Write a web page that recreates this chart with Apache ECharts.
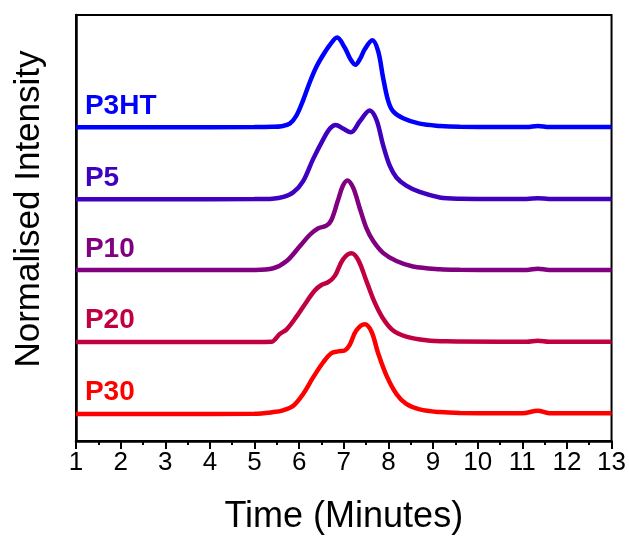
<!DOCTYPE html>
<html>
<head>
<meta charset="utf-8">
<script src="https://cdn.jsdelivr.net/npm/echarts@6/dist/echarts.min.js"></script>
<style>
html,body{margin:0;padding:0;background:#fff;}
#chart{width:629px;height:540px;}
</style>
</head>
<body>
<div id="chart"></div>
<script>
// ---- data ----
var seriesNames = ['P3HT', 'P5', 'P10', 'P20', 'P30'];
var seriesColors = ['#0000FF', '#4000C0', '#800080', '#C00040', '#FF0000'];
var offsets = [3.462, 2.668, 1.886, 1.092, 0.299];

var p3htTime = [1, 3, 5.0, 5.4, 5.6, 5.79, 5.94, 6.09, 6.24, 6.39, 6.54, 6.69, 6.85, 7.02, 7.14, 7.26, 7.37, 7.47, 7.64, 7.77, 7.88, 7.99, 8.10, 8.33, 8.70, 9.15, 9.6, 10.5, 11.1, 11.35, 11.6, 12.2, 13];
var p3htValue = [0, 0, 0.002, 0.005, 0.012, 0.04, 0.13, 0.30, 0.50, 0.67, 0.80, 0.91, 0.99, 0.88, 0.76, 0.69, 0.76, 0.86, 0.96, 0.84, 0.55, 0.30, 0.18, 0.10, 0.04, 0.015, 0.005, 0.003, 0.003, 0.015, 0.003, 0.002, 0.002];

var p5Time = [1, 3, 5.0, 5.4, 5.65, 5.87, 6.09, 6.31, 6.54, 6.69, 6.82, 6.98, 7.16, 7.36, 7.58, 7.73, 7.88, 8.03, 8.18, 8.40, 8.70, 9.15, 9.6, 10.5, 11.1, 11.35, 11.6, 12.2, 13];
var p5Value = [0, 0, 0.002, 0.006, 0.025, 0.076, 0.20, 0.44, 0.66, 0.78, 0.82, 0.78, 0.74, 0.86, 0.98, 0.88, 0.60, 0.37, 0.24, 0.15, 0.08, 0.02, 0.006, 0.003, 0.003, 0.012, 0.003, 0.002, 0.002];

var p10Time = [1, 3, 5.0, 5.42, 5.72, 6.01, 6.24, 6.42, 6.61, 6.72, 6.87, 6.98, 7.08, 7.21, 7.36, 7.51, 7.66, 7.88, 8.18, 8.55, 9.15, 9.6, 10.5, 11.1, 11.35, 11.6, 12.2, 13];
var p10Value = [0, 0, 0.002, 0.02, 0.10, 0.26, 0.39, 0.46, 0.49, 0.55, 0.77, 0.93, 0.99, 0.91, 0.68, 0.46, 0.32, 0.19, 0.10, 0.04, 0.01, 0.004, 0.002, 0.002, 0.015, 0.002, 0.002, 0.002];

var p20Time = [1, 3, 5.0, 5.39, 5.46, 5.57, 5.72, 5.94, 6.16, 6.35, 6.50, 6.65, 6.80, 6.98, 7.17, 7.32, 7.51, 7.69, 7.88, 8.10, 8.40, 8.85, 9.3, 10.5, 11.1, 11.35, 11.6, 12.2, 13];
var p20Value = [0, 0, 0, 0.003, 0.03, 0.09, 0.14, 0.28, 0.44, 0.57, 0.63, 0.66, 0.73, 0.91, 0.98, 0.91, 0.67, 0.44, 0.26, 0.13, 0.06, 0.02, 0.008, 0.004, 0.004, 0.015, 0.004, 0.003, 0.003];

var p30Time = [1, 3, 5.0, 5.42, 5.64, 5.87, 6.09, 6.31, 6.54, 6.72, 6.87, 7.02, 7.13, 7.28, 7.47, 7.62, 7.77, 7.96, 8.18, 8.40, 8.70, 9.15, 9.6, 10.5, 11.0, 11.35, 11.6, 12.2, 13];
var p30Value = [0, 0, 0.002, 0.02, 0.04, 0.09, 0.22, 0.40, 0.57, 0.67, 0.69, 0.70, 0.76, 0.92, 0.99, 0.91, 0.67, 0.42, 0.22, 0.11, 0.05, 0.02, 0.01, 0.008, 0.008, 0.035, 0.008, 0.007, 0.007];

var xTickLabels = ['1','2','3','4','5','6','7','8','9','10','11','12','13'];
var xAxisTitle = 'Time (Minutes)';
var yAxisTitle = 'Normalised Intensity';
var labelTime = 1.2;
var labelLift = 0.235;

var allTimes = [p3htTime, p5Time, p10Time, p20Time, p30Time];
var allValues = [p3htValue, p5Value, p10Value, p20Value, p30Value];

// ---- chart ----
var FONT = "'Liberation Sans', Arial, sans-serif";
var chart = echarts.init(document.getElementById('chart'), null, {renderer: 'canvas'});

var series = seriesNames.map(function (name, i) {
  var data = allTimes[i].map(function (t, k) { return [t, offsets[i] + allValues[i][k]]; });
  return {
    name: name,
    type: 'line',
    data: data,
    showSymbol: false,
    symbol: 'none',
    smooth: 0.35,
    lineStyle: {color: seriesColors[i], width: 4.5},
    itemStyle: {color: seriesColors[i]},
    z: 3 + i,
    markPoint: {
      symbol: 'circle',
      symbolSize: 0,
      silent: true,
      data: [{coord: [labelTime, offsets[i] + labelLift]}],
      label: {
        show: true,
        position: 'inside',
        align: 'left',
        verticalAlign: 'middle',
        formatter: name,
        color: seriesColors[i],
        fontFamily: FONT,
        fontWeight: 'bold',
        fontSize: 28
      }
    }
  };
});

chart.setOption({
  animation: false,
  backgroundColor: '#ffffff',
  grid: {left: 76, right: 16.5, top: 15, bottom: 92.5, show: true, borderColor: '#000', borderWidth: 2, backgroundColor: 'transparent'},
  xAxis: {
    type: 'value',
    min: 1, max: 13, interval: 1,
    name: xAxisTitle,
    nameLocation: 'middle',
    nameGap: 58,
    nameTextStyle: {fontFamily: FONT, fontSize: 36, color: '#000'},
    axisLine: {show: true, onZero: false, lineStyle: {color: '#000', width: 2.5}},
    axisTick: {show: true, inside: false, length: 8, lineStyle: {color: '#000', width: 2}},
    minorTick: {show: true, splitNumber: 2, length: 4, lineStyle: {color: '#000', width: 2}},
    axisLabel: {
      fontFamily: FONT, fontSize: 26, color: '#000', margin: 9,
      formatter: function (v) { var idx = Math.round(v - 1); return xTickLabels[idx] || ''; }
    },
    splitLine: {show: false}
  },
  yAxis: {
    type: 'value',
    min: 0, max: 4.701,
    axisLine: {show: true, onZero: false, lineStyle: {color: '#000', width: 2.5}},
    axisTick: {show: false},
    axisLabel: {show: false},
    splitLine: {show: false}
  },
  graphic: [{
    type: 'text',
    x: 29, y: 209,
    rotation: Math.PI / 2,
    style: {
      text: yAxisTitle,
      fill: '#000',
      font: "35px 'Liberation Sans', Arial, sans-serif",
      align: 'center',
      verticalAlign: 'middle'
    }
  }],
  series: series
});
</script>
</body>
</html>
